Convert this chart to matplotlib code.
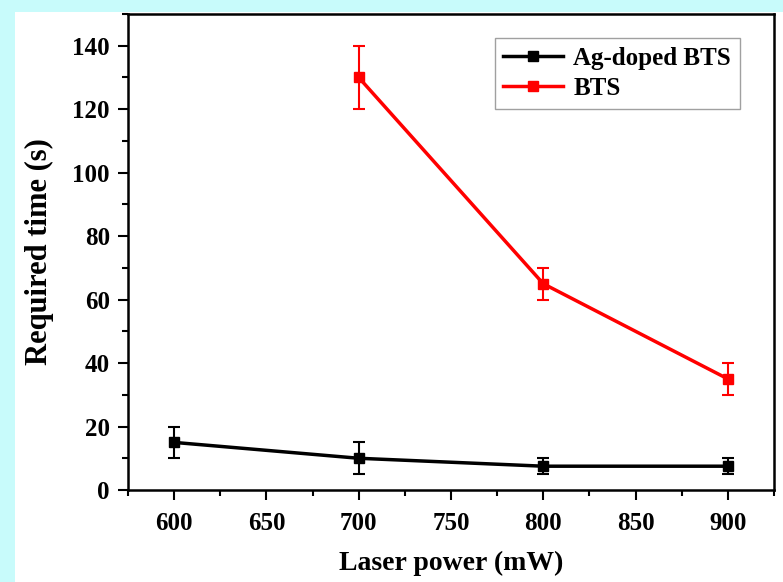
import numpy as np
import matplotlib.pyplot as plt
from matplotlib.patches import Rectangle
from matplotlib.lines import Line2D

plt.rcParams['font.family'] = ['Liberation Serif', 'DejaVu Serif']
plt.rcParams['font.weight'] = 'bold'

# data
power_ag = [600, 700, 800, 900]
time_ag = [15, 10, 7.5, 7.5]
err_ag = [5, 5, 2.5, 2.5]

power_bts = [700, 800, 900]
time_bts = [130, 65, 35]
err_bts = [10, 5, 5]

fig = plt.figure(figsize=(7.83, 5.82), dpi=100, facecolor='#c8fbfb')
# white panel over the cyan background
fig.patches.append(Rectangle((15/783, 0), 1, 1 - 12/582, transform=fig.transFigure,
                             facecolor='white', edgecolor='none', zorder=-10))
ax = fig.add_axes([128/783, 1 - 490/582, (774-128)/783, (490-14)/582])

ax.errorbar(power_ag, time_ag, yerr=err_ag, color='black', marker='s', ms=7.5,
            lw=2.5, capsize=4, elinewidth=1.5, capthick=1.5)
ax.errorbar(power_bts, time_bts, yerr=err_bts, color='red', marker='s', ms=7.5,
            lw=2.5, capsize=4, elinewidth=1.5, capthick=1.5)

ax.set_xlim(575, 925)
ax.set_ylim(0, 150)
ax.set_xticks(np.arange(600, 901, 50))
ax.set_xticks(np.arange(575, 926, 25), minor=True)
ax.set_yticks(np.arange(0, 141, 20))
ax.set_yticks(np.arange(0, 151, 10), minor=True)
ax.tick_params(which='major', direction='out', length=7, width=1.5, labelsize=18)
ax.tick_params(axis='x', which='major', pad=9)
ax.tick_params(axis='y', which='major', pad=6)
ax.tick_params(which='minor', direction='out', length=4, width=1.5)
for s in ax.spines.values():
    s.set_linewidth(1.8)

ax.set_xlabel('Laser power (mW)', fontsize=20, fontweight='bold', labelpad=11)
ax.set_ylabel('Required time (s)', fontsize=22, fontweight='bold', labelpad=13)

handles = [Line2D([], [], color='black', marker='s', ms=7.5, lw=2.5),
           Line2D([], [], color='red', marker='s', ms=7.5, lw=2.5)]
leg = ax.legend(handles, ['Ag-doped BTS', 'BTS'], loc='upper right',
                bbox_to_anchor=(0.947, 0.95), borderaxespad=0, fontsize=18,
                fancybox=False, edgecolor='#888888', handlelength=2.4,
                borderpad=0.35, labelspacing=0.3, handletextpad=0.4)
leg.get_frame().set_linewidth(1)

fig.savefig('out.png', dpi=100, facecolor=fig.get_facecolor())
